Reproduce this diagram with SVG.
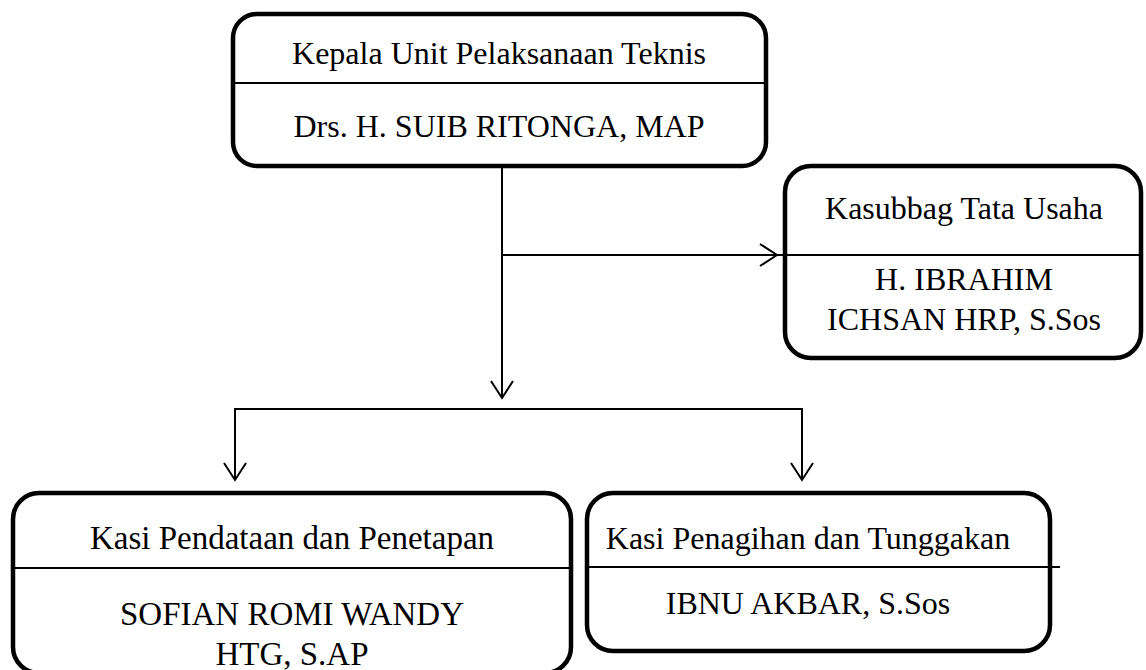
<svg xmlns="http://www.w3.org/2000/svg" width="1146" height="670" viewBox="0 0 1146 670">
<defs>
<style>
.box{fill:#ffffff;stroke:#000000;stroke-width:4.5}
.div{stroke:#000000;stroke-width:2;fill:none}
.con{stroke:#000000;stroke-width:2;fill:none}
.t{font-family:"Liberation Serif","Times New Roman",serif;font-size:32px;fill:#000000;text-anchor:middle}
.tb{font-size:33px}
</style>
<marker id="arr" viewBox="0 0 20 24" refX="18" refY="12" markerWidth="20" markerHeight="24" markerUnits="userSpaceOnUse" orient="auto">
<path d="M1,1 L18,12 L1,23" fill="none" stroke="#000000" stroke-width="2"/>
</marker>
</defs>
<rect width="1146" height="670" fill="#ffffff"/>
<g id="connectors">
<line class="con" x1="502" y1="166" x2="502" y2="398" marker-end="url(#arr)"/>
<line class="con" x1="502" y1="255" x2="777" y2="255" marker-end="url(#arr)"/>
<line class="con" x1="234" y1="409" x2="803" y2="409"/>
<line class="con" x1="235" y1="408" x2="235" y2="480" marker-end="url(#arr)"/>
<line class="con" x1="802" y1="408" x2="802" y2="480" marker-end="url(#arr)"/>
</g>
<g id="node-kepala">
<rect class="box" x="233" y="14" width="533" height="152" rx="24"/>
<line class="div" x1="233" y1="83" x2="766" y2="83"/>
<text class="t" x="499" y="64">Kepala Unit Pelaksanaan Teknis</text>
<text class="t" x="499" y="137">Drs. H. SUIB RITONGA, MAP</text>
</g>
<g id="node-kasubbag">
<rect class="box" x="785" y="166" width="356" height="192" rx="26"/>
<line class="div" x1="777" y1="255" x2="1141" y2="255"/>
<text class="t" x="964" y="219">Kasubbag Tata Usaha</text>
<text class="t" x="964" y="290">H. IBRAHIM</text>
<text class="t" x="964" y="330">ICHSAN HRP, S.Sos</text>
</g>
<g id="node-kasi-pendataan">
<rect class="box" x="13" y="493" width="558" height="180" rx="26"/>
<line class="div" x1="13" y1="568" x2="571" y2="568"/>
<text class="t tb" x="292" y="549">Kasi Pendataan dan Penetapan</text>
<text class="t tb" x="292" y="625">SOFIAN ROMI WANDY</text>
<text class="t tb" x="292" y="665">HTG, S.AP</text>
</g>
<g id="node-kasi-penagihan">
<rect class="box" x="587" y="493" width="463" height="158" rx="26"/>
<line class="div" x1="587" y1="567" x2="1060" y2="567"/>
<text class="t" x="808" y="549">Kasi Penagihan dan Tunggakan</text>
<text class="t" x="808" y="614">IBNU AKBAR, S.Sos</text>
</g>
</svg>
